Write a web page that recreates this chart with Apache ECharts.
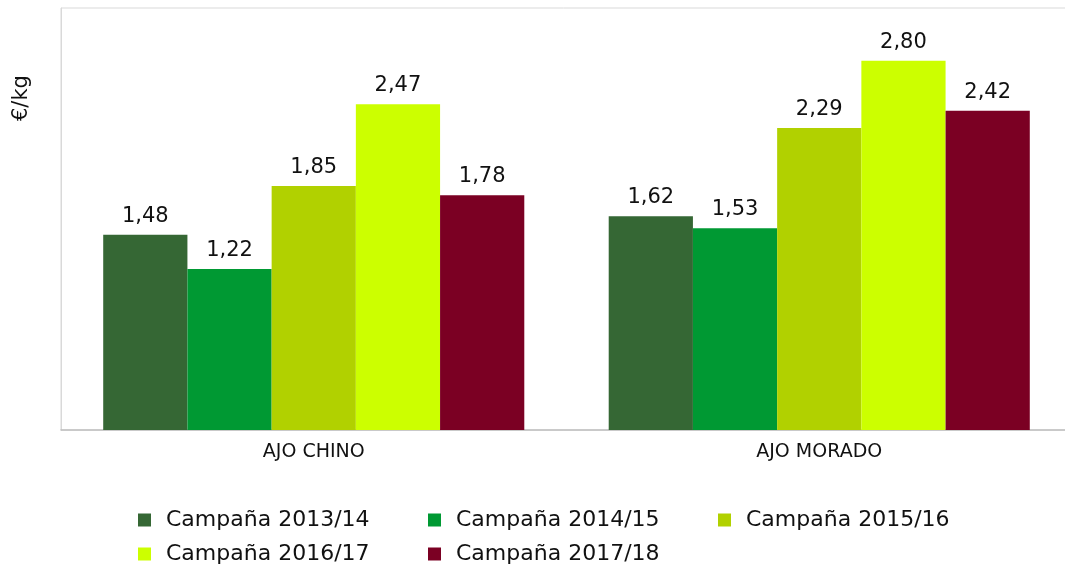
<!DOCTYPE html>
<html>
<head>
<meta charset="utf-8">
<script src="https://cdn.jsdelivr.net/npm/echarts@6/dist/echarts.min.js"></script>
<style>
  html, body { margin: 0; padding: 0; background: #fff; }
  #chart { width: 1065px; height: 569px; }
</style>
</head>
<body>
<div id="chart"></div>
<script>
const categories = ['AJO CHINO', 'AJO MORADO']
const seriesNames = ['Campaña 2013/14', 'Campaña 2014/15', 'Campaña 2015/16', 'Campaña 2016/17', 'Campaña 2017/18']
const campaign1314 = [1.48, 1.62]
const campaign1415 = [1.22, 1.53]
const campaign1516 = [1.85, 2.29]
const campaign1617 = [2.47, 2.80]
const campaign1718 = [1.78, 2.42]
const colors = ['#356734', '#009933', '#b1d100', '#ccff00', '#7b0023']

const values = [campaign1314, campaign1415, campaign1516, campaign1617, campaign1718]
const font = '"DejaVu Sans", sans-serif'
const textColor = '#111'

// legend laid out as a 3 + 2 grid
const legendCols = [138, 428, 718]
const legendRows = [509, 543]

const chart = echarts.init(document.getElementById('chart'))

chart.setOption({
  animation: false,
  textStyle: { fontFamily: font },
  grid: {
    left: 61,
    right: -7,
    top: 8,
    bottom: 139,
    outerBoundsMode: 'none',
    containLabel: false,
    show: true,
    borderColor: '#d9d9d9',
    borderWidth: 1
  },
  legend: seriesNames.map((name, i) => ({
    data: [name],
    left: legendCols[i % 3],
    top: legendRows[Math.floor(i / 3)],
    padding: 0,
    itemWidth: 13,
    itemHeight: 13,
    icon: 'rect',
    selectedMode: false,
    textStyle: { fontSize: 22, color: textColor, fontFamily: font, padding: [0, 0, 0, 10] }
  })),
  graphic: [{
    type: 'text',
    x: 11,
    y: 121,
    rotation: Math.PI / 2,
    style: { text: '€/kg', fontSize: 21, fill: textColor, fontFamily: font }
  }],
  xAxis: {
    type: 'category',
    data: categories,
    axisLine: { lineStyle: { color: '#bfbfbf', width: 1.5 } },
    axisTick: { show: false },
    axisLabel: { fontSize: 19, color: textColor, margin: 13 }
  },
  yAxis: {
    type: 'value',
    min: 0,
    max: 3.2,
    axisLine: { show: true, lineStyle: { color: '#d9d9d9' } },
    axisLabel: { show: false },
    axisTick: { show: false },
    splitLine: { show: false }
  },
  series: seriesNames.map((name, i) => ({
    name,
    type: 'bar',
    data: values[i],
    barGap: '0%',
    barCategoryGap: '16.7%',
    itemStyle: { color: colors[i] },
    label: {
      show: true,
      position: 'top',
      distance: 8,
      fontSize: 21,
      color: textColor,
      formatter: p => p.value.toFixed(2).replace('.', ',')
    }
  }))
})
</script>
</body>
</html>
